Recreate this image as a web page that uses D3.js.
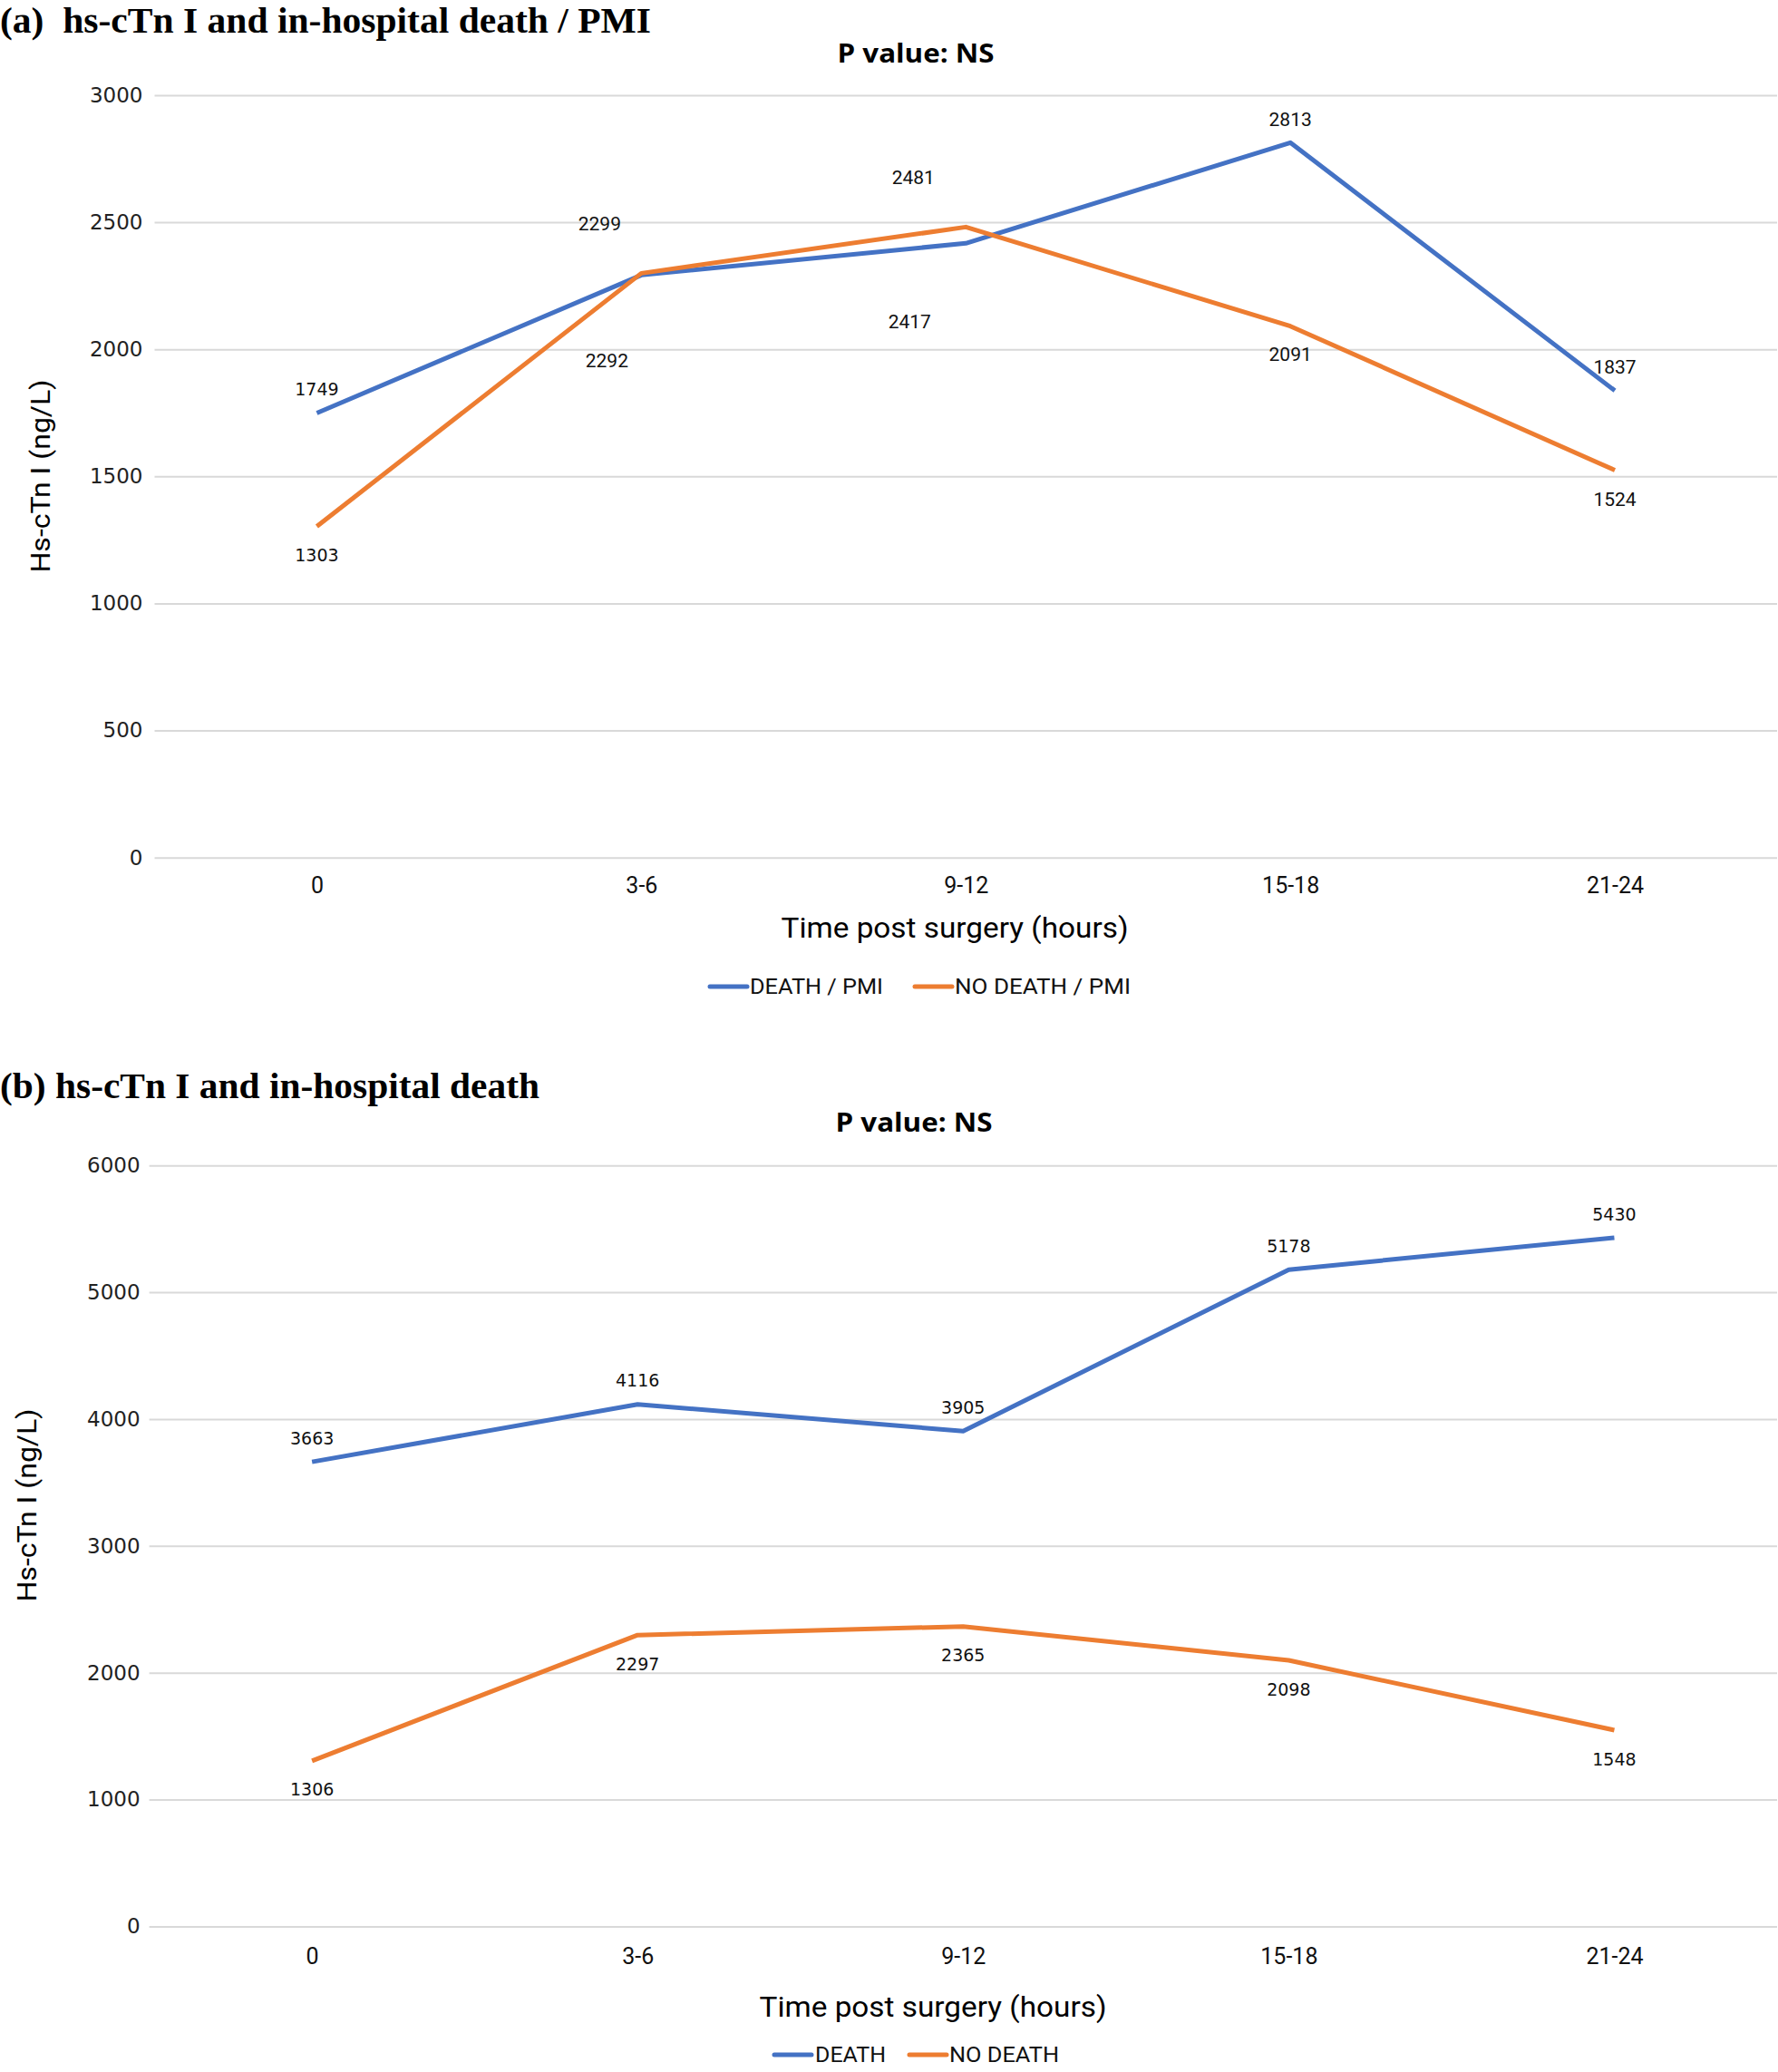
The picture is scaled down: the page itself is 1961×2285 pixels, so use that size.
<!DOCTYPE html>
<html>
<head>
<meta charset="utf-8">
<script src="https://cdn.jsdelivr.net/npm/d3@7"></script>
<style>
  body { margin: 0; background: #fff; }
  svg { display: block; }
</style>
</head>
<body>
<div class="content"></div>
<script>
const [svgWidth, svgHeight] = [1961, 2285];

// data
const categories = ['0', '3-6', '9-12', '15-18', '21-24'];
const deathPmi = [1749, 2292, 2417, 2813, 1837];
const noDeathPmi = [1303, 2299, 2481, 2091, 1524];
const death = [3663, 4116, 3905, 5178, 5430];
const noDeath = [1306, 2297, 2365, 2098, 1548];
const ticksA = [0, 500, 1000, 1500, 2000, 2500, 3000];
const ticksB = [0, 1000, 2000, 3000, 4000, 5000, 6000];
const namesA = ['DEATH / PMI', 'NO DEATH / PMI'];
const namesB = ['DEATH', 'NO DEATH'];
const colors = ['#4472c4', '#ed7d31'];

// label nudges (px) relative to each point, per series
const offA = [
  [[0, -26], [-38, 94], [-62, 86], [0, -26], [0, -26]],
  [[0, 32], [-46, -55], [-58, -55], [0, 31], [0, 32]]
];
const offB = [
  [[0, -26], [0, -26], [0, -26], [0, -26], [0, -26]],
  [[0, 32], [0, 32], [0, 32], [0, 32], [0, 32]]
];
const narrowA = [false, true, true, true, true];
const narrowB = [false, false, false, false, false];

const plotRight = 1960;
const panels = [
  {title: '(a)\u00a0\u00a0hs-cTn I and in-hospital death / PMI', titleY: 36, titleW: 718,
   pY: 69, pX: 1010, series: [deathPmi, noDeathPmi], names: namesA, ticks: ticksA, max: 3000,
   left: 170.5, top: 104.9, bottom: 945.7, tickPad: 13, yTitle: [44, 525], xTickY: 985,
   xTitle: [1053, 1034], legendY: 1088,
   legend: [[783, 827, 147], [1009, 1053, 194]], off: offA, narrow: narrowA},
  {title: '(b) hs-cTn I and in-hospital death', titleY: 1211, titleW: 595,
   pY: 1248, pX: 1008, series: [death, noDeath], names: namesB, ticks: ticksB, max: 6000,
   left: 164.6, top: 1285.2, bottom: 2124.5, tickPad: 10, yTitle: [29, 1660], xTickY: 2166,
   xTitle: [1029, 2224], legendY: 2266,
   legend: [[854, 899, 78], [1003, 1047, 121]], off: offB, narrow: narrowB}
];

const svg = d3.select('.content')
  .append('svg')
  .attr('width', svgWidth)
  .attr('height', svgHeight);

panels.forEach(p => {
  const g = svg.append('g');
  const x = d3.scalePoint()
    .domain(categories)
    .range([p.left, plotRight])
    .padding(0.5);
  const y = d3.scaleLinear()
    .domain([0, p.max])
    .range([p.bottom, p.top]);

  g.append('text')
    .attr('x', 0)
    .attr('y', p.titleY)
    .attr('font-family', 'Liberation Serif, serif')
    .attr('font-weight', 'bold')
    .attr('font-size', 41)
    .attr('textLength', p.titleW)
    .attr('lengthAdjust', 'spacingAndGlyphs')
    .text(p.title);

  g.append('text')
    .attr('x', p.pX)
    .attr('y', p.pY)
    .attr('text-anchor', 'middle')
    .attr('font-family', 'Open Sans, sans-serif')
    .attr('font-weight', 'bold')
    .attr('font-size', 28)
    .attr('textLength', 173)
    .attr('lengthAdjust', 'spacingAndGlyphs')
    .text('P value: NS');

  g.append('g')
    .attr('transform', `translate(${p.left},0)`)
    .call(d3.axisLeft(y)
      .tickValues(p.ticks)
      .tickFormat(d3.format('d'))
      .tickSize(-(plotRight - p.left))
      .tickPadding(p.tickPad))
    .call(a => a.select('.domain').remove())
    .call(a => a.selectAll('line').attr('stroke', '#d9d9d9').attr('stroke-width', 2))
    .call(a => a.selectAll('text')
      .attr('font-family', 'DejaVu Sans, sans-serif')
      .attr('font-size', 23)
      .attr('fill', '#222'));

  g.append('g')
    .attr('transform', `translate(0,${p.bottom})`)
    .call(d3.axisBottom(x).tickSize(0))
    .call(a => a.select('.domain').remove())
    .call(a => a.selectAll('text')
      .attr('y', p.xTickY - p.bottom)
      .attr('dy', null)
      .attr('font-family', 'Roboto, sans-serif')
      .attr('font-size', 25)
      .attr('fill', '#111'));

  g.append('text')
    .attr('x', p.xTitle[0])
    .attr('y', p.xTitle[1])
    .attr('text-anchor', 'middle')
    .attr('font-family', 'Roboto, sans-serif')
    .attr('font-size', 32)
    .attr('textLength', 383)
    .attr('lengthAdjust', 'spacingAndGlyphs')
    .text('Time post surgery (hours)');

  g.append('text')
    .attr('transform', `translate(${p.yTitle[0]},${p.yTitle[1]}) rotate(-90)`)
    .attr('text-anchor', 'middle')
    .attr('dy', '0.35em')
    .attr('font-family', 'Roboto, sans-serif')
    .attr('font-size', 30)
    .attr('textLength', 213)
    .attr('lengthAdjust', 'spacingAndGlyphs')
    .text('Hs-cTn I (ng/L)');

  const line = d3.line()
    .x((d, i) => x(categories[i]))
    .y(d => y(d));

  g.selectAll('path.series')
    .data(p.series)
    .enter()
    .append('path')
    .classed('series', true)
    .attr('fill', 'none')
    .attr('stroke', (d, i) => colors[i])
    .attr('stroke-width', 5)
    .attr('stroke-linejoin', 'round')
    .attr('d', line);

  p.series.forEach((s, si) => {
    g.selectAll(null)
      .data(s)
      .enter()
      .append('text')
      .attr('x', (d, i) => x(categories[i]) + p.off[si][i][0])
      .attr('y', (d, i) => y(d) + p.off[si][i][1])
      .attr('dy', '0.35em')
      .attr('text-anchor', 'middle')
      .attr('font-family', (d, i) => p.narrow[i] ? 'Roboto, sans-serif' : 'DejaVu Sans, sans-serif')
      .attr('font-size', (d, i) => p.narrow[i] ? 21 : 19)
      .attr('fill', '#111')
      .text(d => d);
  });

  const leg = g.selectAll('g.legend')
    .data(p.names)
    .enter()
    .append('g')
    .classed('legend', true);
  leg.append('line')
    .attr('x1', (d, i) => p.legend[i][0])
    .attr('x2', (d, i) => p.legend[i][0] + 41)
    .attr('y1', p.legendY)
    .attr('y2', p.legendY)
    .attr('stroke', (d, i) => colors[i])
    .attr('stroke-width', 5)
    .attr('stroke-linecap', 'round');
  leg.append('text')
    .attr('x', (d, i) => p.legend[i][1])
    .attr('y', p.legendY)
    .attr('dy', '0.35em')
    .attr('font-family', 'Roboto, sans-serif')
    .attr('font-size', 24)
    .attr('textLength', (d, i) => p.legend[i][2])
    .attr('lengthAdjust', 'spacingAndGlyphs')
    .attr('fill', '#111')
    .text(d => d);
});
</script>
</body>
</html>
